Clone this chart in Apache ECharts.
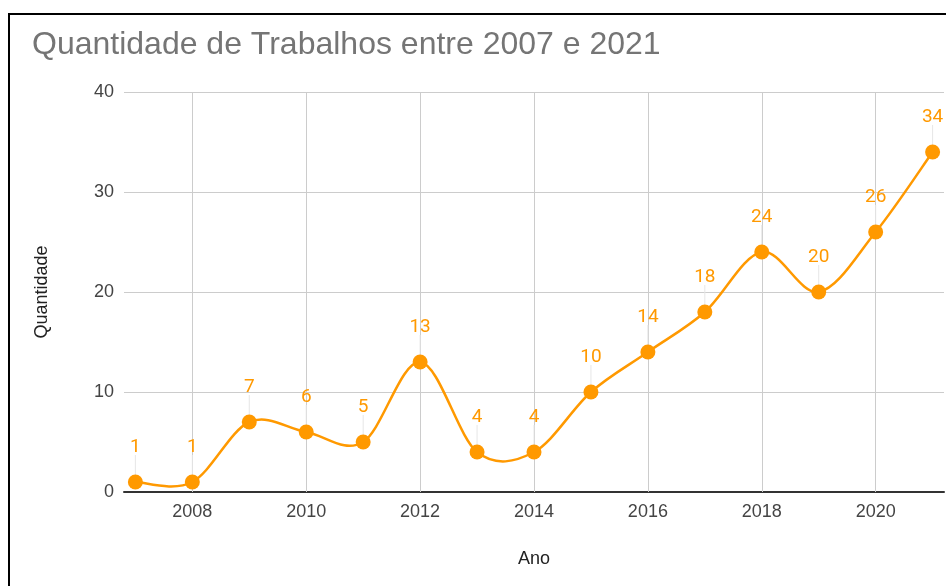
<!DOCTYPE html>
<html>
<head>
<meta charset="utf-8">
<script src="https://cdn.jsdelivr.net/npm/echarts@6/dist/echarts.min.js"></script>
<style>
  html, body { margin: 0; padding: 0; background: #fff; }
  #chart { width: 946px; height: 586px; }
</style>
</head>
<body>
<div id="chart"></div>
<script>
// dados
const anos = [2007, 2008, 2009, 2010, 2011, 2012, 2013, 2014, 2015, 2016, 2017, 2018, 2019, 2020, 2021];
const quantidade = [1, 1, 7, 6, 5, 13, 4, 4, 10, 14, 18, 24, 20, 26, 34];
const anosRotulo = [2008, 2010, 2012, 2014, 2016, 2018, 2020];

const laranja = '#ff9900';
const pontos = anos.map((a, i) => [a, quantidade[i]]);

const chart = echarts.init(document.getElementById('chart'));

// curva suave (catmull-rom) ligando os pontos, desenhada pelas coordenadas do eixo
function segmento(params, api) {
    const i = params.dataIndex;
    if (i >= pontos.length - 1) return { type: 'group', children: [] };
    const c = k => api.coord(pontos[Math.max(0, Math.min(pontos.length - 1, k))]);
    const p0 = c(i - 1), p1 = c(i), p2 = c(i + 1), p3 = c(i + 2);
    return {
        type: 'bezierCurve',
        shape: {
            x1: p1[0], y1: p1[1],
            x2: p2[0], y2: p2[1],
            cpx1: p1[0] + (p2[0] - p0[0]) / 6,
            cpy1: p1[1] + (p2[1] - p0[1]) / 6,
            cpx2: p2[0] - (p3[0] - p1[0]) / 6,
            cpy2: p2[1] - (p3[1] - p1[1]) / 6
        },
        style: { stroke: laranja, lineWidth: 2.5, fill: null }
    };
}

const option = {
    backgroundColor: '#fff',
    animation: false,
    title: {
        text: 'Quantidade de Trabalhos entre 2007 e 2021',
        left: 32,
        top: 29,
        padding: 0,
        textStyle: {
            fontFamily: 'Liberation Sans',
            fontWeight: 'normal',
            fontSize: 32,
            color: '#757575'
        }
    },
    graphic: [{
        type: 'rect',
        shape: { x: 9, y: 14, width: 1000, height: 1000 },
        style: { fill: 'none', stroke: '#000', lineWidth: 2 },
        silent: true
    }],
    grid: { left: 124, right: 2, top: 92, bottom: 94 },
    xAxis: {
        type: 'value',
        min: 2006.8,
        max: 2021.2,
        name: 'Ano',
        nameLocation: 'middle',
        nameGap: 58,
        nameTextStyle: { fontFamily: 'Liberation Sans', fontSize: 18, color: '#222' },
        axisLine: { lineStyle: { color: '#333', width: 2 } },
        axisTick: { show: false },
        splitLine: { show: false },
        axisLabel: {
            customValues: anosRotulo,
            formatter: v => String(v),
            margin: 11,
            fontFamily: 'Liberation Sans',
            fontSize: 18,
            color: '#444'
        }
    },
    yAxis: {
        type: 'value',
        min: 0,
        max: 40,
        interval: 10,
        name: 'Quantidade',
        nameLocation: 'middle',
        nameRotate: 90,
        nameGap: 73,
        nameTextStyle: { fontFamily: 'Liberation Sans', fontSize: 18, color: '#222' },
        axisLine: { show: false },
        axisTick: { show: false },
        axisLabel: { margin: 10, fontFamily: 'Liberation Sans', fontSize: 18, color: '#444' },
        splitLine: { lineStyle: { color: '#cccccc', width: 1 } }
    },
    series: [
        {
            // linhas de grade verticais
            type: 'line',
            data: [],
            z: 1,
            silent: true,
            markLine: {
                symbol: 'none',
                silent: true,
                z: 1,
                label: { show: false },
                lineStyle: { color: '#cccccc', width: 1, type: 'solid' },
                data: anosRotulo.map(a => ({ xAxis: a }))
            }
        },
        {
            // linhas-guia dos rótulos
            type: 'custom',
            z: 2,
            silent: true,
            data: pontos,
            renderItem: function (params, api) {
                const p = api.coord([api.value(0), api.value(1)]);
                return {
                    type: 'line',
                    shape: { x1: p[0], y1: p[1] - 6, x2: p[0], y2: p[1] - 27 },
                    style: { stroke: '#e6e6e6', lineWidth: 1 }
                };
            }
        },
        {
            // curva
            type: 'custom',
            z: 3,
            silent: true,
            data: pontos,
            renderItem: segmento
        },
        {
            type: 'line',
            z: 4,
            data: pontos,
            symbol: 'circle',
            symbolSize: 15,
            itemStyle: { color: laranja },
            lineStyle: { width: 0, opacity: 0 },
            label: {
                show: true,
                position: 'top',
                distance: 18,
                fontFamily: 'Roboto',
                fontSize: 19,
                color: laranja
            }
        }
    ]
};

chart.setOption(option);
window.addEventListener('resize', () => chart.resize());
</script>
</body>
</html>
